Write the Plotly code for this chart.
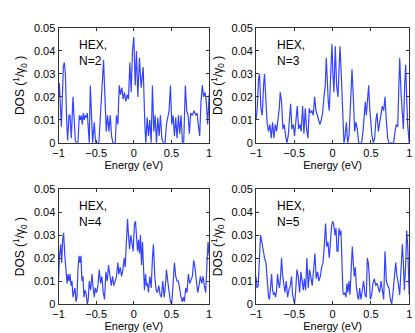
import plotly.graph_objects as go
from plotly.subplots import make_subplots

# energy grids (eV) and DOS (1/gamma0)
e_n2 = [-1.000, -0.989, -0.962, -0.936, -0.923, -0.909, -0.892, -0.879, -0.861, -0.848,
        -0.830, -0.808, -0.795, -0.777, -0.764, -0.742, -0.724, -0.711, -0.698, -0.684,
        -0.671, -0.658, -0.645, -0.631, -0.618, -0.605, -0.592, -0.578, -0.561, -0.547,
        -0.525, -0.508, -0.464, -0.437, -0.419, -0.402, -0.384, -0.366, -0.349, -0.331,
        -0.313, -0.296, -0.278, -0.247, -0.230, -0.212, -0.194, -0.177, -0.159, -0.141,
        -0.124, -0.106, -0.088, -0.071, -0.053, -0.035, -0.018, 0.000, 0.018, 0.035,
        0.053, 0.075, 0.097, 0.124, 0.146, 0.159, 0.177, 0.194, 0.212, 0.230,
        0.247, 0.265, 0.283, 0.300, 0.318, 0.336, 0.353, 0.371, 0.393, 0.415,
        0.433, 0.455, 0.468, 0.486, 0.503, 0.521, 0.539, 0.556, 0.574, 0.592,
        0.609, 0.627, 0.645, 0.662, 0.684, 0.702, 0.720, 0.737, 0.755, 0.777,
        0.799, 0.821, 0.839, 0.856, 0.874, 0.892, 0.909, 0.927, 0.945, 0.962,
        0.980, 1.000]
dos_n2 = [0.020, 0.026, 0.007, 0.033, 0.035, 0.030, 0.010, 0.001, 0.012, 0.012,
          0.002, 0.020, 0.012, 0.001, 0.000, 0.000, 0.012, 0.010, 0.012, 0.008,
          0.013, 0.010, 0.012, 0.011, 0.013, 0.003, 0.000, 0.025, 0.008, 0.000,
          0.009, 0.000, 0.000, 0.015, 0.030, 0.036, 0.020, 0.005, 0.012, 0.005,
          0.012, 0.003, 0.000, 0.000, 0.012, 0.008, 0.025, 0.021, 0.024, 0.019,
          0.022, 0.018, 0.021, 0.019, 0.035, 0.022, 0.040, 0.046, 0.025, 0.040,
          0.020, 0.037, 0.024, 0.033, 0.008, 0.000, 0.011, 0.003, 0.010, 0.000,
          0.025, 0.005, 0.012, 0.000, 0.011, 0.003, 0.012, 0.002, 0.000, 0.000,
          0.008, 0.012, 0.014, 0.025, 0.008, 0.012, 0.003, 0.011, 0.002, 0.012,
          0.004, 0.012, 0.000, 0.000, 0.025, 0.014, 0.012, 0.004, 0.013, 0.012,
          0.014, 0.012, 0.013, 0.008, 0.003, 0.018, 0.025, 0.020, 0.022, 0.018,
          0.008, 0.021]

e_n3 = [-1.000, -0.985, -0.967, -0.954, -0.937, -0.919, -0.902, -0.889, -0.871, -0.854,
        -0.837, -0.819, -0.802, -0.784, -0.767, -0.749, -0.732, -0.715, -0.697, -0.684,
        -0.667, -0.649, -0.632, -0.614, -0.597, -0.580, -0.562, -0.549, -0.532, -0.514,
        -0.497, -0.479, -0.462, -0.444, -0.427, -0.410, -0.392, -0.375, -0.357, -0.340,
        -0.322, -0.305, -0.288, -0.270, -0.253, -0.235, -0.218, -0.200, -0.183, -0.166,
        -0.148, -0.131, -0.113, -0.096, -0.083, -0.070, -0.057, -0.044, -0.031, -0.017,
        -0.009, 0.004, 0.017, 0.035, 0.052, 0.070, 0.083, 0.096, 0.109, 0.122,
        0.135, 0.148, 0.161, 0.179, 0.196, 0.214, 0.235, 0.253, 0.270, 0.288,
        0.305, 0.322, 0.340, 0.379, 0.397, 0.414, 0.427, 0.440, 0.458, 0.471,
        0.484, 0.497, 0.514, 0.532, 0.549, 0.566, 0.580, 0.597, 0.614, 0.632,
        0.649, 0.667, 0.684, 0.701, 0.719, 0.736, 0.797, 0.815, 0.832, 0.850,
        0.863, 0.876, 0.893, 0.911, 0.924, 0.941, 0.954, 0.967, 0.980, 1.000]
dos_n3 = [0.010, 0.015, 0.028, 0.030, 0.015, 0.012, 0.025, 0.030, 0.018, 0.008,
          0.005, 0.008, 0.002, 0.009, 0.002, 0.008, 0.005, 0.010, 0.015, 0.022,
          0.018, 0.006, 0.008, 0.003, 0.000, 0.003, 0.010, 0.017, 0.006, 0.008,
          0.003, 0.010, 0.016, 0.006, 0.008, 0.005, 0.016, 0.004, 0.015, 0.006,
          0.002, 0.015, 0.013, 0.014, 0.012, 0.020, 0.014, 0.012, 0.010, 0.008,
          0.010, 0.013, 0.020, 0.025, 0.037, 0.025, 0.018, 0.014, 0.028, 0.040,
          0.043, 0.030, 0.022, 0.042, 0.025, 0.020, 0.035, 0.042, 0.033, 0.020,
          0.005, 0.000, 0.002, 0.009, 0.000, 0.003, 0.018, 0.032, 0.020, 0.005,
          0.009, 0.006, 0.000, 0.000, 0.005, 0.015, 0.018, 0.012, 0.020, 0.025,
          0.015, 0.010, 0.003, 0.000, 0.002, 0.010, 0.013, 0.005, 0.009, 0.012,
          0.016, 0.014, 0.020, 0.010, 0.002, 0.000, 0.000, 0.005, 0.008, 0.007,
          0.025, 0.037, 0.022, 0.010, 0.006, 0.025, 0.034, 0.020, 0.008, 0.000]

e_n4 = [-1.000, -0.989, -0.971, -0.958, -0.945, -0.932, -0.918, -0.901, -0.887, -0.874,
        -0.861, -0.848, -0.834, -0.821, -0.808, -0.795, -0.781, -0.768, -0.755, -0.742,
        -0.728, -0.715, -0.702, -0.689, -0.675, -0.662, -0.649, -0.636, -0.618, -0.605,
        -0.592, -0.574, -0.556, -0.543, -0.525, -0.512, -0.494, -0.477, -0.459, -0.442,
        -0.424, -0.406, -0.389, -0.371, -0.353, -0.336, -0.318, -0.300, -0.283, -0.265,
        -0.247, -0.230, -0.212, -0.199, -0.181, -0.163, -0.146, -0.128, -0.115, -0.097,
        -0.084, -0.071, -0.057, -0.040, -0.026, -0.009, 0.009, 0.022, 0.035, 0.049,
        0.062, 0.075, 0.088, 0.102, 0.115, 0.128, 0.141, 0.155, 0.168, 0.181,
        0.194, 0.212, 0.230, 0.247, 0.260, 0.278, 0.296, 0.313, 0.331, 0.349,
        0.366, 0.384, 0.402, 0.419, 0.433, 0.450, 0.468, 0.486, 0.503, 0.521,
        0.539, 0.556, 0.574, 0.592, 0.609, 0.627, 0.645, 0.658, 0.671, 0.689,
        0.706, 0.724, 0.742, 0.759, 0.777, 0.795, 0.812, 0.830, 0.848, 0.865,
        0.883, 0.901, 0.918, 0.936, 0.954, 0.971, 0.985, 1.000]
dos_n4 = [0.010, 0.020, 0.026, 0.018, 0.028, 0.031, 0.022, 0.012, 0.009, 0.013,
          0.010, 0.013, 0.008, 0.010, 0.003, 0.005, 0.007, 0.001, 0.003, 0.015,
          0.021, 0.018, 0.021, 0.010, 0.012, 0.003, 0.006, 0.005, 0.000, 0.002,
          0.010, 0.006, 0.013, 0.008, 0.003, 0.007, 0.005, 0.008, 0.015, 0.009,
          0.012, 0.005, 0.002, 0.014, 0.010, 0.017, 0.011, 0.008, 0.012, 0.008,
          0.010, 0.012, 0.018, 0.013, 0.016, 0.012, 0.015, 0.020, 0.016, 0.027,
          0.037, 0.030, 0.024, 0.030, 0.026, 0.023, 0.035, 0.036, 0.030, 0.023,
          0.028, 0.022, 0.030, 0.017, 0.027, 0.012, 0.006, 0.013, 0.008, 0.009,
          0.005, 0.012, 0.007, 0.020, 0.026, 0.012, 0.006, 0.005, 0.008, 0.004,
          0.003, 0.010, 0.003, 0.008, 0.015, 0.010, 0.005, 0.001, 0.000, 0.010,
          0.018, 0.012, 0.010, 0.010, 0.006, 0.003, 0.001, 0.003, 0.001, 0.007,
          0.005, 0.013, 0.009, 0.011, 0.012, 0.019, 0.016, 0.010, 0.005, 0.008,
          0.012, 0.009, 0.012, 0.008, 0.005, 0.018, 0.027, 0.021]

e_n5 = [-1.000, -0.989, -0.972, -0.954, -0.941, -0.924, -0.906, -0.889, -0.871, -0.858,
        -0.845, -0.837, -0.824, -0.810, -0.797, -0.784, -0.771, -0.758, -0.745, -0.732,
        -0.719, -0.706, -0.693, -0.680, -0.667, -0.654, -0.641, -0.623, -0.606, -0.588,
        -0.571, -0.553, -0.536, -0.523, -0.510, -0.497, -0.484, -0.466, -0.449, -0.431,
        -0.414, -0.397, -0.383, -0.370, -0.353, -0.336, -0.318, -0.301, -0.283, -0.266,
        -0.248, -0.231, -0.214, -0.196, -0.179, -0.161, -0.144, -0.126, -0.109, -0.092,
        -0.078, -0.061, -0.044, -0.026, -0.013, 0.000, 0.013, 0.031, 0.044, 0.057,
        0.070, 0.083, 0.096, 0.109, 0.122, 0.135, 0.148, 0.161, 0.174, 0.187,
        0.200, 0.214, 0.227, 0.240, 0.257, 0.270, 0.283, 0.296, 0.309, 0.327,
        0.340, 0.353, 0.370, 0.388, 0.405, 0.423, 0.440, 0.453, 0.466, 0.479,
        0.492, 0.510, 0.527, 0.545, 0.562, 0.580, 0.597, 0.614, 0.632, 0.649,
        0.667, 0.684, 0.702, 0.719, 0.736, 0.754, 0.771, 0.789, 0.806, 0.824,
        0.841, 0.858, 0.876, 0.893, 0.911, 0.924, 0.937, 0.954, 0.967, 0.980,
        1.000]
dos_n5 = [0.012, 0.007, 0.008, 0.022, 0.030, 0.027, 0.022, 0.020, 0.018, 0.013,
          0.009, 0.003, 0.002, 0.007, 0.013, 0.006, 0.004, 0.005, 0.003, 0.006,
          0.013, 0.009, 0.007, 0.012, 0.020, 0.013, 0.010, 0.005, 0.010, 0.003,
          0.006, 0.008, 0.012, 0.004, 0.002, 0.000, 0.005, 0.015, 0.012, 0.005,
          0.014, 0.010, 0.006, 0.011, 0.006, 0.020, 0.007, 0.015, 0.012, 0.008,
          0.015, 0.022, 0.011, 0.014, 0.010, 0.012, 0.016, 0.018, 0.025, 0.035,
          0.025, 0.027, 0.020, 0.030, 0.034, 0.036, 0.035, 0.030, 0.033, 0.023,
          0.023, 0.033, 0.030, 0.032, 0.020, 0.005, 0.004, 0.005, 0.003, 0.009,
          0.005, 0.010, 0.004, 0.012, 0.025, 0.018, 0.012, 0.016, 0.008, 0.003,
          0.002, 0.007, 0.002, 0.006, 0.010, 0.004, 0.003, 0.020, 0.018, 0.012,
          0.002, 0.004, 0.009, 0.011, 0.008, 0.009, 0.007, 0.005, 0.010, 0.006,
          0.002, 0.023, 0.010, 0.008, 0.007, 0.002, 0.000, 0.005, 0.010, 0.018,
          0.012, 0.009, 0.004, 0.016, 0.026, 0.018, 0.006, 0.017, 0.032, 0.026,
          0.004]

panels = [("N=2", e_n2, dos_n2), ("N=3", e_n3, dos_n3),
          ("N=4", e_n4, dos_n4), ("N=5", e_n5, dos_n5)]

FONT = "Liberation Sans, Arial, Helvetica, sans-serif"
BLUE = "#3343ff"

fig = make_subplots(rows=2, cols=2)

x_domains = [[0.141, 0.504], [0.617, 0.986]]
y_domains = [[0.571, 0.916], [0.087, 0.432]]

for i, (label, e, dos) in enumerate(panels):
    r, c = i // 2 + 1, i % 2 + 1
    fig.add_trace(go.Scatter(x=e, y=dos, mode="lines", showlegend=False,
                             line=dict(color=BLUE, width=1.2)), row=r, col=c)
    fig.add_annotation(text="HEX,<br>" + label, x=-0.75, y=0.039, xanchor="left",
                       yanchor="middle", align="left", showarrow=False,
                       font=dict(size=12, color="black", family=FONT), row=r, col=c)
    fig.update_xaxes(domain=x_domains[c - 1], range=[-1, 1], tickvals=[-1, -0.5, 0, 0.5, 1],
                     title_text="Energy (eV)", title_standoff=1, row=r, col=c)
    fig.update_yaxes(domain=y_domains[r - 1], range=[0, 0.05], dtick=0.01,
                     title_text="DOS (<sup>1</sup>/γ<sub>0</sub> )", title_standoff=6,
                     title_font_size=12, row=r, col=c)

axis_style = dict(showgrid=False, zeroline=False, showline=True, linecolor="#333",
                  linewidth=1, mirror="ticks", ticks="inside", ticklen=3, tickcolor="#333",
                  automargin=False,
                  tickfont=dict(size=11, color="black"),
                  title_font_color="black")
fig.update_xaxes(title_font_size=11, **axis_style)
fig.update_yaxes(**axis_style)

fig.update_layout(width=415, height=333, margin=dict(l=0, r=0, t=0, b=0),
                  paper_bgcolor="white", plot_bgcolor="white",
                  font=dict(family=FONT, color="black"))

# drop the page's default body margin so the figure fills the window
fig.write_html("out.html", config={"displayModeBar": False},
               post_script="document.body.style.margin='0';")
